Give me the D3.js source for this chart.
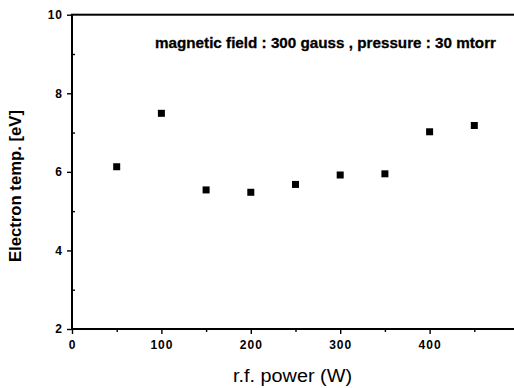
<!doctype html>
<html>
<head>
<script src="https://cdnjs.cloudflare.com/ajax/libs/d3/7.8.5/d3.min.js"></script>
<style>
  body { margin: 0; background: #fff; }
  svg { display: block; }
</style>
</head>
<body>
<svg id="chart" width="514" height="388"></svg>
<script>
// r.f. power (W) and electron temperature (eV)
var power = [50, 100, 150, 200, 250, 300, 350, 400, 450];
var temp = [6.13, 7.49, 5.54, 5.48, 5.68, 5.92, 5.95, 7.02, 7.18];
var xTicks = [0, 100, 200, 300, 400];
var yTicks = [2, 4, 6, 8, 10];
var note = "magnetic field : 300 gauss , pressure : 30 mtorr";

var svg = d3.select("#chart");
var x = d3.scaleLinear().domain([0, 500]).range([72, 519]);
var y = d3.scaleLinear().domain([2, 10]).range([329, 14.7]);

var plain = "'Liberation Sans', Arial, sans-serif";

// frame
svg.append("rect")
    .attr("x", x(0)).attr("y", y(10))
    .attr("width", x(500) - x(0)).attr("height", y(2) - y(10))
    .attr("fill", "none").attr("stroke", "#000").attr("stroke-width", 2);

// x axis
svg.append("g").attr("transform", "translate(0," + y(2) + ")")
    .call(d3.axisBottom(x).tickValues(xTicks).tickSize(5).tickPadding(6));
svg.append("g").attr("transform", "translate(0," + y(2) + ")")
    .call(d3.axisBottom(x).tickValues([50, 150, 250, 350, 450]).tickSize(3).tickFormat(""));

// y axis
svg.append("g").attr("transform", "translate(" + x(0) + ",0)")
    .call(d3.axisLeft(y).tickValues(yTicks).tickSize(5).tickPadding(4));
svg.append("g").attr("transform", "translate(" + x(0) + ",0)")
    .call(d3.axisRight(y).tickValues([3, 5, 7, 9]).tickSize(3).tickFormat(""));

svg.selectAll(".domain").remove();
svg.selectAll(".tick line").attr("stroke", "#000").attr("stroke-width", 1.4);
svg.selectAll(".tick text")
    .attr("fill", "#000")
    .style("font-family", plain)
    .style("font-size", "12px")
    .style("font-weight", "bold")
    .style("letter-spacing", "1px");

// data markers
svg.append("g").selectAll("rect")
    .data(power)
    .enter()
    .append("rect")
    .attr("x", function(d) { return x(d) - 3.5; })
    .attr("y", function(d, i) { return y(temp[i]) - 3.5; })
    .attr("width", 7).attr("height", 7)
    .attr("fill", "#000");

// annotation, squeezed to look condensed
svg.append("text")
    .attr("x", 155).attr("y", 48)
    .attr("textLength", 341).attr("lengthAdjust", "spacingAndGlyphs")
    .style("font-family", plain)
    .style("font-size", "15.5px")
    .style("font-weight", "bold")
    .style("stroke", "#000").style("stroke-width", 0.3)
    .text(note);

// axis titles
svg.append("text")
    .attr("x", 233).attr("y", 382)
    .attr("textLength", 119).attr("lengthAdjust", "spacingAndGlyphs")
    .style("font-family", plain)
    .style("font-size", "18px")
    .text("r.f. power (W)");

svg.append("text")
    .attr("transform", "translate(21,262) rotate(-90)")
    .attr("textLength", 152).attr("lengthAdjust", "spacingAndGlyphs")
    .style("font-family", plain)
    .style("font-size", "16.5px")
    .style("font-weight", "bold")
    .text("Electron temp. [eV]");
</script>
</body>
</html>
